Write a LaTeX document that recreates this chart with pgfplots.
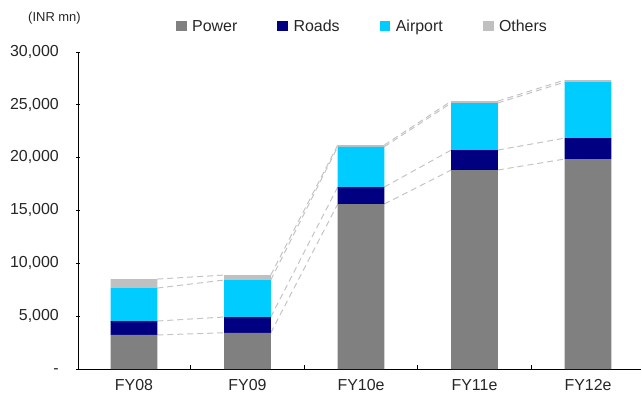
\documentclass[border=0pt]{standalone}
\usepackage{pgfplots}
\usepackage{pgfplotstable}
\usepackage{fontspec}
\setmainfont{Liberation Sans}
\pgfplotsset{compat=1.18}

\definecolor{power}{HTML}{808080}
\definecolor{roads}{HTML}{000080}
\definecolor{airport}{HTML}{00CCFF}
\definecolor{others}{HTML}{C0C0C0}
\definecolor{link}{HTML}{C4C4C4}

% Cumulative top of each stack segment (INR mn)
\pgfplotstableread{
x power roads airport others
0  3220  4540  7660  8510
1  3430  4920  8420  8890
2 15610 17220 21030 21190
3 18830 20720 25170 25350
4 19870 21850 27150 27340
}\stacktops

% value of the same level on the following bar, for the dashed links
\newcommand\addnextcol[1]{%
  \pgfplotstablecreatecol[create col/assign/.code={%
      \getnextrow{#1}{\nxt}%
      \ifx\nxt\empty \getthisrow{#1}{\nxt}\fi
      \pgfkeyslet{/pgfplots/table/create col/next content}\nxt}]{#1next}\stacktops}
\addnextcol{power}
\addnextcol{roads}
\addnextcol{airport}
\addnextcol{others}

\newcommand\bw{0.205}

\pgfplotsset{
  frame/.style={
    at={(0,0)}, anchor=south west,
    scale only axis, width=562.5bp, height=317bp,
    xmin=-0.489, xmax=4.467, ymin=0, ymax=30000},
  stackbar/.style={fill=#1, draw=none,
    legend image code/.code={\fill[##1] (0bp,-5.35bp) rectangle (10.7bp,5.35bp);}},
  linkline/.style={link, line width=1bp, dash pattern=on 6bp off 4bp,
    quiver={u=1-2*\bw, v=\thisrow{#1next}-\thisrow{#1}},
    skip coords between index={4}{5}},
}

\begin{document}
\begin{tikzpicture}
% dashed links between consecutive stacks, behind the bars
\begin{axis}[frame, hide axis]
\addplot[linkline=power]   table[x expr=\thisrow{x}+\bw, y=power]{\stacktops};
\addplot[linkline=roads]   table[x expr=\thisrow{x}+\bw, y=roads]{\stacktops};
\addplot[linkline=airport] table[x expr=\thisrow{x}+\bw, y=airport]{\stacktops};
\addplot[linkline=others]  table[x expr=\thisrow{x}+\bw, y=others]{\stacktops};
\end{axis}

\begin{axis}[
  frame,
  ybar stacked, bar width=0.41,
  axis lines=left, axis line style={-, line width=0.9bp, black},
  scaled y ticks=false,
  xtick={0,1,2,3,4},
  xticklabels={FY08, FY09, FY10e, FY11e, FY12e},
  minor xtick={0.5,1.5,2.5,3.5},
  ytick={0,5000,10000,15000,20000,25000,30000},
  yticklabels={-, {5,000}, {10,000}, {15,000}, {20,000}, {25,000}, {30,000}},
  tick align=center,
  major tick length=4bp, minor tick length=4bp,
  major x tick style={draw=none},
  minor x tick style={black, line width=0.8bp, yshift=2bp},
  major y tick style={black, line width=0.8bp},
  tick label style={font=\fontsize{16}{18}\selectfont, text=black!85},
  yticklabel style={anchor=east, inner sep=0pt, xshift=-17.5bp, yshift=1.2bp,
    text height=11bp, text depth=0pt},
  xticklabel style={anchor=north, inner sep=0pt, yshift=-8.5bp,
    text height=11bp, text depth=0pt},
  legend columns=4,
  legend style={at={(axis description cs:0,1)}, anchor=west,
    xshift=97.5bp, yshift=26bp, draw=none, fill=none,
    inner sep=0pt, outer sep=0pt,
    font=\fontsize{16}{18}\selectfont, text=black!85,
    nodes={inner sep=0pt, text height=11bp, text depth=0pt},
    /tikz/every even column/.append style={column sep=40bp},
    /tikz/every odd column/.append style={column sep=5.5bp}},
  clip=false,
]
\addplot[stackbar=power]   table[x=x, y=power]{\stacktops};
\addlegendentry{Power}
\addplot[stackbar=roads]   table[x=x, y expr=\thisrow{roads}-\thisrow{power}]{\stacktops};
\addlegendentry{Roads}
\addplot[stackbar=airport] table[x=x, y expr=\thisrow{airport}-\thisrow{roads}]{\stacktops};
\addlegendentry{Airport}
\addplot[stackbar=others]  table[x=x, y expr=\thisrow{others}-\thisrow{airport}]{\stacktops};
\addlegendentry{Others}
\end{axis}
% unit note above the value axis
\node[font=\fontsize{13}{15}\selectfont, text=black!85, inner sep=0pt]
  at (-24bp,351.3bp) {(INR mn)};
\pgfresetboundingbox
\path[use as bounding box] (-78.5bp,-32bp) rectangle (563.5bp,369bp);
\end{tikzpicture}
\end{document}
